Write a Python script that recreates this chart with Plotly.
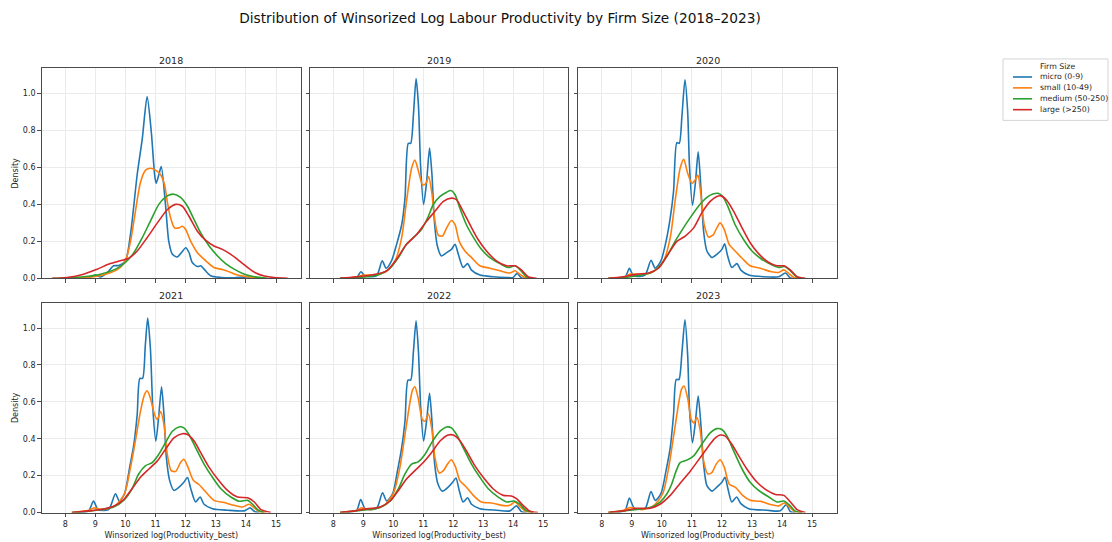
import plotly.graph_objects as go

YEARS = [2018, 2019, 2020, 2021, 2022, 2023]
SIZE_LABELS = ["micro (0-9)", "small (10-49)", "medium (50-250)", "large (>250)"]
COLORS = ["#1f77b4", "#ff7f0e", "#2ca02c", "#d62728"]
X_TICKS = [8, 9, 10, 11, 12, 13, 14, 15]
Y_TICKS = [0.0, 0.2, 0.4, 0.6, 0.8, 1.0]

# ---------------- 2018 ----------------
micro_2018_x = [8.50, 8.83, 9.00, 9.17, 9.39, 9.61, 9.78, 10.00, 10.17, 10.39, 10.56, 10.72, 10.86, 10.97, 11.02, 11.11, 11.19, 11.33, 11.44, 11.56, 11.72, 11.89, 12.00, 12.11, 12.22, 12.39, 12.50, 12.61, 12.83, 13.17, 13.61, 14.06, 14.28]
micro_2018_y = [0.0, 0.008, 0.018, 0.008, 0.03, 0.068, 0.07, 0.095, 0.24, 0.56, 0.755, 0.982, 0.79, 0.56, 0.514, 0.56, 0.604, 0.40, 0.20, 0.13, 0.116, 0.145, 0.166, 0.14, 0.086, 0.064, 0.068, 0.05, 0.014, 0.005, 0.003, 0.008, 0.0]
small_2018_x = [8.06, 9.00, 9.50, 9.83, 10.00, 10.17, 10.33, 10.50, 10.67, 10.83, 11.00, 11.17, 11.30, 11.39, 11.50, 11.63, 11.78, 11.89, 12.00, 12.17, 12.39, 12.67, 12.94, 13.22, 13.50, 13.72, 14.06, 14.39, 14.61]
small_2018_y = [0.0, 0.01, 0.03, 0.06, 0.095, 0.2, 0.36, 0.52, 0.585, 0.595, 0.585, 0.56, 0.505, 0.415, 0.327, 0.273, 0.273, 0.282, 0.264, 0.2, 0.139, 0.095, 0.059, 0.048, 0.032, 0.018, 0.009, 0.002, 0.0]
medium_2018_x = [7.61, 8.61, 9.17, 9.67, 10.00, 10.28, 10.56, 10.83, 11.11, 11.39, 11.61, 11.83, 12.06, 12.28, 12.50, 12.78, 13.06, 13.33, 13.61, 13.89, 14.17, 14.50, 14.72]
medium_2018_y = [0.0, 0.009, 0.023, 0.05, 0.086, 0.139, 0.22, 0.31, 0.40, 0.446, 0.455, 0.4375, 0.39, 0.318, 0.246, 0.175, 0.121, 0.08, 0.05, 0.027, 0.0125, 0.004, 0.0]
large_2018_x = [7.56, 8.06, 8.61, 9.06, 9.50, 9.83, 10.11, 10.39, 10.72, 11.06, 11.39, 11.67, 11.89, 12.11, 12.39, 12.67, 12.94, 13.22, 13.50, 13.78, 14.06, 14.33, 14.61, 14.94, 15.39]
large_2018_y = [0.0, 0.005, 0.023, 0.05, 0.08, 0.095, 0.109, 0.148, 0.22, 0.30, 0.371, 0.40, 0.39, 0.336, 0.255, 0.205, 0.175, 0.157, 0.13, 0.095, 0.059, 0.029, 0.0125, 0.004, 0.0]

# ---------------- 2019 ----------------
micro_2019_x = [8.56, 8.78, 8.92, 9.06, 9.44, 9.63, 9.76, 9.94, 10.11, 10.28, 10.39, 10.50, 10.58, 10.67, 10.76, 10.84, 10.91, 11.01, 11.11, 11.21, 11.29, 11.37, 11.47, 11.61, 11.78, 11.94, 12.06, 12.17, 12.33, 12.48, 12.61, 12.89, 13.33, 13.78, 14.00, 14.13, 14.28, 14.44]
micro_2019_y = [0.0, 0.005, 0.036, 0.0125, 0.014, 0.095, 0.055, 0.095, 0.184, 0.29, 0.434, 0.73, 0.73, 0.88, 1.08, 0.934, 0.61, 0.40, 0.52, 0.705, 0.56, 0.31, 0.175, 0.121, 0.139, 0.157, 0.184, 0.13, 0.059, 0.08, 0.045, 0.018, 0.009, 0.005, 0.005, 0.027, 0.002, 0.0]
small_2019_x = [8.22, 8.78, 9.00, 9.44, 9.78, 10.06, 10.28, 10.44, 10.61, 10.72, 10.83, 10.98, 11.09, 11.18, 11.28, 11.39, 11.50, 11.64, 11.78, 11.94, 12.06, 12.20, 12.39, 12.61, 12.89, 13.22, 13.56, 13.89, 14.06, 14.22, 14.39, 14.67]
small_2019_y = [0.0, 0.009, 0.018, 0.02, 0.04, 0.095, 0.22, 0.416, 0.595, 0.64, 0.586, 0.505, 0.514, 0.55, 0.47, 0.31, 0.234, 0.229, 0.273, 0.3125, 0.29, 0.2, 0.148, 0.1125, 0.068, 0.055, 0.041, 0.029, 0.041, 0.023, 0.005, 0.0]
medium_2019_x = [8.22, 8.78, 9.11, 9.56, 9.89, 10.17, 10.44, 10.72, 10.94, 11.17, 11.33, 11.56, 11.78, 11.92, 12.06, 12.22, 12.44, 12.67, 12.94, 13.22, 13.56, 13.83, 14.06, 14.24, 14.44, 14.67]
medium_2019_y = [0.0, 0.005, 0.009, 0.023, 0.055, 0.1125, 0.184, 0.229, 0.264, 0.336, 0.398, 0.443, 0.466, 0.475, 0.452, 0.38, 0.29, 0.223, 0.157, 0.1125, 0.08, 0.059, 0.068, 0.045, 0.009, 0.0]
large_2019_x = [8.22, 8.78, 9.33, 9.78, 10.11, 10.44, 10.78, 11.11, 11.39, 11.67, 11.94, 12.11, 12.33, 12.56, 12.83, 13.11, 13.44, 13.78, 14.06, 14.28, 14.50, 14.78]
large_2019_y = [0.0, 0.009, 0.02, 0.041, 0.104, 0.184, 0.2375, 0.309, 0.3625, 0.416, 0.434, 0.425, 0.3625, 0.29, 0.21, 0.148, 0.095, 0.068, 0.068, 0.045, 0.009, 0.0]

# ---------------- 2020 ----------------
micro_2020_x = [8.61, 8.78, 8.92, 9.06, 9.44, 9.64, 9.78, 9.97, 10.14, 10.28, 10.39, 10.50, 10.58, 10.67, 10.77, 10.86, 10.92, 11.02, 11.12, 11.21, 11.30, 11.39, 11.50, 11.67, 11.83, 12.00, 12.09, 12.19, 12.33, 12.50, 12.63, 12.89, 13.39, 13.89, 14.11, 14.28, 14.44]
micro_2020_y = [0.002, 0.005, 0.054, 0.014, 0.018, 0.098, 0.055, 0.095, 0.2, 0.327, 0.47, 0.734, 0.73, 0.88, 1.073, 0.90, 0.61, 0.395, 0.52, 0.684, 0.49, 0.255, 0.148, 0.1125, 0.13, 0.157, 0.1875, 0.121, 0.059, 0.08, 0.045, 0.018, 0.009, 0.009, 0.029, 0.002, 0.0]
small_2020_x = [8.22, 8.78, 8.94, 9.28, 9.72, 10.06, 10.28, 10.44, 10.61, 10.73, 10.86, 11.00, 11.11, 11.20, 11.30, 11.41, 11.56, 11.72, 11.83, 11.94, 12.08, 12.24, 12.44, 12.67, 12.94, 13.28, 13.61, 13.89, 14.06, 14.22, 14.39, 14.61]
small_2020_y = [0.0, 0.009, 0.023, 0.02, 0.0375, 0.095, 0.22, 0.416, 0.595, 0.643, 0.568, 0.514, 0.532, 0.559, 0.452, 0.29, 0.223, 0.2375, 0.273, 0.3, 0.264, 0.184, 0.148, 0.109, 0.068, 0.055, 0.0375, 0.032, 0.046, 0.027, 0.005, 0.0]
medium_2020_x = [8.22, 8.78, 9.17, 9.61, 9.89, 10.17, 10.44, 10.72, 10.94, 11.22, 11.50, 11.72, 11.87, 12.03, 12.22, 12.44, 12.72, 13.00, 13.28, 13.61, 13.89, 14.08, 14.28, 14.48, 14.72]
medium_2020_y = [0.0, 0.005, 0.014, 0.029, 0.059, 0.121, 0.2, 0.273, 0.327, 0.39, 0.4375, 0.457, 0.46, 0.443, 0.38, 0.29, 0.21, 0.148, 0.109, 0.077, 0.059, 0.064, 0.041, 0.009, 0.0]
large_2020_x = [8.22, 8.72, 9.17, 9.56, 9.89, 10.17, 10.50, 10.78, 11.06, 11.33, 11.61, 11.83, 11.97, 12.17, 12.39, 12.67, 12.94, 13.22, 13.56, 13.83, 14.06, 14.28, 14.50, 14.78]
large_2020_y = [0.0, 0.009, 0.023, 0.029, 0.055, 0.121, 0.2, 0.229, 0.273, 0.354, 0.416, 0.443, 0.446, 0.42, 0.3625, 0.273, 0.193, 0.134, 0.086, 0.068, 0.068, 0.045, 0.009, 0.0]

# ---------------- 2021 ----------------
micro_2021_x = [8.39, 8.78, 8.94, 9.09, 9.44, 9.67, 9.80, 9.97, 10.14, 10.28, 10.39, 10.48, 10.57, 10.66, 10.74, 10.83, 10.91, 11.01, 11.10, 11.20, 11.28, 11.36, 11.47, 11.61, 11.78, 11.94, 12.06, 12.17, 12.33, 12.48, 12.61, 12.89, 13.39, 13.94, 14.14, 14.30, 14.44]
micro_2021_y = [0.0, 0.009, 0.0625, 0.016, 0.016, 0.102, 0.061, 0.102, 0.245, 0.37, 0.53, 0.727, 0.727, 0.905, 1.054, 0.888, 0.566, 0.3875, 0.5125, 0.682, 0.53, 0.298, 0.173, 0.12, 0.1375, 0.164, 0.19, 0.129, 0.057, 0.084, 0.045, 0.021, 0.0125, 0.009, 0.025, 0.004, 0.0]
small_2021_x = [8.22, 8.78, 8.94, 9.28, 9.67, 9.97, 10.17, 10.33, 10.50, 10.63, 10.72, 10.83, 10.97, 11.06, 11.17, 11.28, 11.39, 11.52, 11.67, 11.83, 11.94, 12.08, 12.26, 12.44, 12.67, 12.94, 13.28, 13.61, 13.89, 14.11, 14.28, 14.44, 14.67]
small_2021_y = [0.0, 0.0125, 0.025, 0.016, 0.039, 0.102, 0.245, 0.3875, 0.548, 0.6375, 0.66, 0.62, 0.53, 0.504, 0.548, 0.477, 0.316, 0.227, 0.223, 0.271, 0.289, 0.245, 0.173, 0.152, 0.111, 0.066, 0.054, 0.039, 0.03, 0.045, 0.025, 0.004, 0.0]
medium_2021_x = [8.22, 8.78, 9.17, 9.61, 9.94, 10.22, 10.44, 10.67, 10.89, 11.11, 11.33, 11.56, 11.78, 11.94, 12.11, 12.33, 12.61, 12.89, 13.17, 13.50, 13.78, 14.06, 14.22, 14.41, 14.61]
medium_2021_y = [0.0, 0.007, 0.016, 0.03, 0.066, 0.129, 0.209, 0.254, 0.271, 0.316, 0.379, 0.441, 0.464, 0.459, 0.423, 0.352, 0.2625, 0.191, 0.129, 0.084, 0.061, 0.066, 0.045, 0.0125, 0.0]
large_2021_x = [8.22, 8.78, 9.17, 9.61, 9.94, 10.22, 10.50, 10.78, 11.06, 11.33, 11.61, 11.89, 12.06, 12.28, 12.50, 12.78, 13.06, 13.39, 13.72, 14.06, 14.28, 14.50, 14.83]
large_2021_y = [0.0, 0.009, 0.016, 0.034, 0.07, 0.129, 0.191, 0.236, 0.28, 0.343, 0.405, 0.427, 0.423, 0.3875, 0.325, 0.245, 0.182, 0.12, 0.084, 0.08, 0.057, 0.016, 0.0]

# ---------------- 2022 ----------------
micro_2022_x = [8.44, 8.78, 8.91, 9.06, 9.44, 9.64, 9.78, 9.98, 10.14, 10.28, 10.39, 10.49, 10.58, 10.67, 10.76, 10.84, 10.91, 11.01, 11.11, 11.21, 11.29, 11.38, 11.49, 11.64, 11.83, 11.98, 12.09, 12.20, 12.33, 12.48, 12.61, 12.89, 13.44, 13.89, 14.11, 14.28, 14.44]
micro_2022_y = [0.0, 0.0125, 0.071, 0.021, 0.021, 0.107, 0.0625, 0.102, 0.227, 0.352, 0.495, 0.718, 0.718, 0.87, 1.039, 0.87, 0.584, 0.3875, 0.495, 0.646, 0.495, 0.2625, 0.155, 0.116, 0.1375, 0.164, 0.1875, 0.12, 0.057, 0.08, 0.045, 0.021, 0.0125, 0.009, 0.036, 0.004, 0.0]
small_2022_x = [8.22, 8.78, 8.94, 9.22, 9.67, 10.00, 10.22, 10.39, 10.56, 10.64, 10.72, 10.83, 10.97, 11.06, 11.17, 11.28, 11.39, 11.53, 11.67, 11.81, 11.94, 12.08, 12.22, 12.44, 12.67, 12.94, 13.28, 13.61, 13.89, 14.06, 14.24, 14.44, 14.67]
small_2022_y = [0.0, 0.0125, 0.025, 0.016, 0.036, 0.102, 0.245, 0.423, 0.602, 0.664, 0.682, 0.62, 0.504, 0.495, 0.534, 0.459, 0.298, 0.214, 0.227, 0.2625, 0.286, 0.245, 0.173, 0.1375, 0.093, 0.057, 0.052, 0.039, 0.039, 0.057, 0.03, 0.004, 0.0]
medium_2022_x = [8.22, 8.78, 9.17, 9.56, 9.89, 10.17, 10.39, 10.61, 10.83, 11.06, 11.28, 11.56, 11.78, 11.94, 12.11, 12.33, 12.61, 12.89, 13.17, 13.50, 13.78, 14.03, 14.22, 14.42, 14.67]
medium_2022_y = [0.0, 0.009, 0.016, 0.027, 0.061, 0.129, 0.209, 0.2625, 0.275, 0.316, 0.379, 0.441, 0.464, 0.459, 0.423, 0.352, 0.2625, 0.191, 0.129, 0.084, 0.057, 0.0625, 0.045, 0.0125, 0.0]
large_2022_x = [8.22, 8.72, 9.17, 9.56, 9.89, 10.17, 10.44, 10.72, 11.00, 11.28, 11.56, 11.83, 12.00, 12.22, 12.44, 12.72, 13.00, 13.33, 13.67, 13.94, 14.11, 14.33, 14.56, 14.83]
large_2022_y = [0.0, 0.009, 0.021, 0.03, 0.0625, 0.12, 0.182, 0.227, 0.271, 0.325, 0.3875, 0.42, 0.42, 0.391, 0.334, 0.254, 0.191, 0.129, 0.093, 0.09, 0.075, 0.039, 0.007, 0.0]

# ---------------- 2023 ----------------
micro_2023_x = [8.50, 8.78, 8.92, 9.08, 9.44, 9.64, 9.78, 9.97, 10.14, 10.28, 10.39, 10.48, 10.57, 10.67, 10.77, 10.86, 10.92, 11.02, 11.12, 11.21, 11.30, 11.39, 11.50, 11.67, 11.83, 12.00, 12.10, 12.20, 12.33, 12.49, 12.63, 12.89, 13.50, 13.94, 14.14, 14.28, 14.44]
micro_2023_y = [0.0, 0.0125, 0.079, 0.025, 0.021, 0.114, 0.066, 0.102, 0.227, 0.352, 0.53, 0.721, 0.721, 0.87, 1.045, 0.852, 0.566, 0.379, 0.495, 0.632, 0.477, 0.2625, 0.146, 0.116, 0.1375, 0.164, 0.191, 0.129, 0.057, 0.084, 0.048, 0.021, 0.0125, 0.009, 0.043, 0.004, 0.0]
small_2023_x = [8.22, 8.72, 8.94, 9.33, 9.72, 10.03, 10.23, 10.40, 10.57, 10.66, 10.74, 10.86, 10.98, 11.07, 11.17, 11.28, 11.39, 11.53, 11.67, 11.81, 11.94, 12.08, 12.24, 12.47, 12.69, 12.94, 13.28, 13.61, 13.89, 14.08, 14.28, 14.44, 14.67]
small_2023_y = [0.0, 0.0125, 0.027, 0.016, 0.036, 0.102, 0.245, 0.423, 0.602, 0.67, 0.686, 0.62, 0.504, 0.486, 0.516, 0.441, 0.28, 0.209, 0.218, 0.2625, 0.286, 0.245, 0.155, 0.134, 0.093, 0.066, 0.061, 0.043, 0.036, 0.052, 0.025, 0.004, 0.0]
medium_2023_x = [8.22, 8.78, 9.17, 9.61, 9.94, 10.17, 10.33, 10.48, 10.61, 10.83, 11.06, 11.33, 11.61, 11.83, 12.00, 12.17, 12.39, 12.67, 12.94, 13.22, 13.56, 13.83, 14.06, 14.26, 14.44, 14.67]
medium_2023_y = [0.0, 0.009, 0.016, 0.027, 0.057, 0.102, 0.155, 0.227, 0.271, 0.284, 0.307, 0.37, 0.432, 0.455, 0.45, 0.414, 0.334, 0.236, 0.164, 0.12, 0.084, 0.057, 0.0625, 0.039, 0.0075, 0.0]
large_2023_x = [8.22, 8.72, 9.17, 9.61, 9.94, 10.28, 10.61, 10.94, 11.28, 11.56, 11.78, 11.94, 12.11, 12.33, 12.56, 12.83, 13.17, 13.50, 13.78, 14.06, 14.28, 14.50, 14.78]
large_2023_y = [0.0, 0.009, 0.023, 0.023, 0.045, 0.093, 0.159, 0.223, 0.298, 0.361, 0.405, 0.42, 0.414, 0.37, 0.307, 0.236, 0.164, 0.12, 0.098, 0.093, 0.057, 0.016, 0.0]

SERIES = {
    2018: [(micro_2018_x, micro_2018_y), (small_2018_x, small_2018_y), (medium_2018_x, medium_2018_y), (large_2018_x, large_2018_y)],
    2019: [(micro_2019_x, micro_2019_y), (small_2019_x, small_2019_y), (medium_2019_x, medium_2019_y), (large_2019_x, large_2019_y)],
    2020: [(micro_2020_x, micro_2020_y), (small_2020_x, small_2020_y), (medium_2020_x, medium_2020_y), (large_2020_x, large_2020_y)],
    2021: [(micro_2021_x, micro_2021_y), (small_2021_x, small_2021_y), (medium_2021_x, medium_2021_y), (large_2021_x, large_2021_y)],
    2022: [(micro_2022_x, micro_2022_y), (small_2022_x, small_2022_y), (medium_2022_x, medium_2022_y), (large_2022_x, large_2022_y)],
    2023: [(micro_2023_x, micro_2023_y), (small_2023_x, small_2023_y), (medium_2023_x, medium_2023_y), (large_2023_x, large_2023_y)],
}

W, H = 1112, 542
FONT = "DejaVu Sans"
TXT = "#262626"
COL_PX = [(41.7, 301.0), (310.0, 568.0), (578.3, 837.0)]
ROW_PX = [(69.0, 281.0), (306.0, 517.3)]

fig = go.Figure()
annotations = []
shapes = []

for i, year in enumerate(YEARS):
    r, c = divmod(i, 3)
    n = i + 1
    xa = "x" if n == 1 else f"x{n}"
    ya = "y" if n == 1 else f"y{n}"
    for k, (xs, ys) in enumerate(SERIES[year]):
        fig.add_trace(go.Scatter(
            x=xs, y=ys, mode="lines", name=SIZE_LABELS[k],
            line=dict(color=COLORS[k], width=1.6, shape="spline", smoothing=0.7),
            showlegend=False, legendgroup=SIZE_LABELS[k],
            xaxis=xa, yaxis=ya, hoverinfo="skip",
        ))
    x0, x1 = COL_PX[c]
    y0, y1 = ROW_PX[r]
    xdom = [x0 / W, x1 / W]
    ydom = [1 - y1 / H, 1 - y0 / H]
    axis_common = dict(
        showline=True, mirror=True, linecolor="#4a4a4a", linewidth=1,
        showgrid=True, gridcolor="#ebebeb", gridwidth=1, zeroline=False,
        ticks="outside", ticklen=3.5, tickwidth=1, tickcolor="#4a4a4a",
        tickfont=dict(family=FONT, size=8, color=TXT),
    )
    xkey = "xaxis" if n == 1 else f"xaxis{n}"
    ykey = "yaxis" if n == 1 else f"yaxis{n}"
    fig.update_layout(**{
        xkey: dict(
            domain=xdom, anchor=ya, range=[7.22, 15.83],
            tickvals=X_TICKS, showticklabels=(r == 1),
            title=dict(text="Winsorized log(Productivity_best)" if r == 1 else "",
                       font=dict(family=FONT, size=8, color=TXT), standoff=4),
            **axis_common,
        ),
        ykey: dict(
            domain=ydom, anchor=xa, range=[0, 1.135],
            tickvals=Y_TICKS, tickformat=".1f", showticklabels=(c == 0),
            title=dict(text="Density" if c == 0 else "",
                       font=dict(family=FONT, size=8, color=TXT), standoff=3),
            **axis_common,
        ),
    })
    annotations.append(dict(
        text=str(year), x=(x0 + x1) / 2 / W, y=1 - (y0 - 7.5) / H,
        xref="paper", yref="paper", xanchor="center", yanchor="middle",
        showarrow=False, font=dict(family=FONT, size=9.5, color=TXT),
    ))

# Legend drawn as a framed box (matches the reference layout)
LEG_L, LEG_R, LEG_T, LEG_B = 1003, 1108, 59.5, 121.5
LEG_FONT = 7.8
shapes.append(dict(type="rect", xref="paper", yref="paper",
                   x0=LEG_L / W, x1=LEG_R / W, y0=1 - LEG_B / H, y1=1 - LEG_T / H,
                   line=dict(color="#d4d4d4", width=1), fillcolor="white", layer="above"))
annotations.append(dict(
    text="Firm Size", x=1057 / W, y=1 - 66.7 / H,
    xref="paper", yref="paper", xanchor="center", yanchor="middle",
    showarrow=False, font=dict(family=FONT, size=LEG_FONT, color=TXT),
))
ROW_Y = [77.7, 88.7, 99.7, 110.7]
for k, label in enumerate(SIZE_LABELS):
    yy = 1 - ROW_Y[k] / H
    shapes.append(dict(type="line", xref="paper", yref="paper",
                       x0=1013 / W, x1=1032 / W, y0=yy, y1=yy,
                       line=dict(color=COLORS[k], width=1.6), layer="above"))
    annotations.append(dict(
        text=label, x=1038 / W, y=yy, xref="paper", yref="paper",
        xanchor="left", yanchor="middle", showarrow=False,
        font=dict(family=FONT, size=LEG_FONT, color=TXT),
    ))

fig.update_layout(
    width=W, height=H,
    margin=dict(l=0, r=0, t=0, b=0),
    paper_bgcolor="white", plot_bgcolor="white",
    showlegend=False,
    title=dict(
        text="Distribution of Winsorized Log Labour Productivity by Firm Size (2018–2023)",
        x=500 / W, y=1 - 18 / H, xanchor="center", yanchor="middle",
        font=dict(family=FONT, size=13.7, color="#111"),
    ),
    annotations=annotations,
    shapes=shapes,
)

fig.write_html("out.html")
